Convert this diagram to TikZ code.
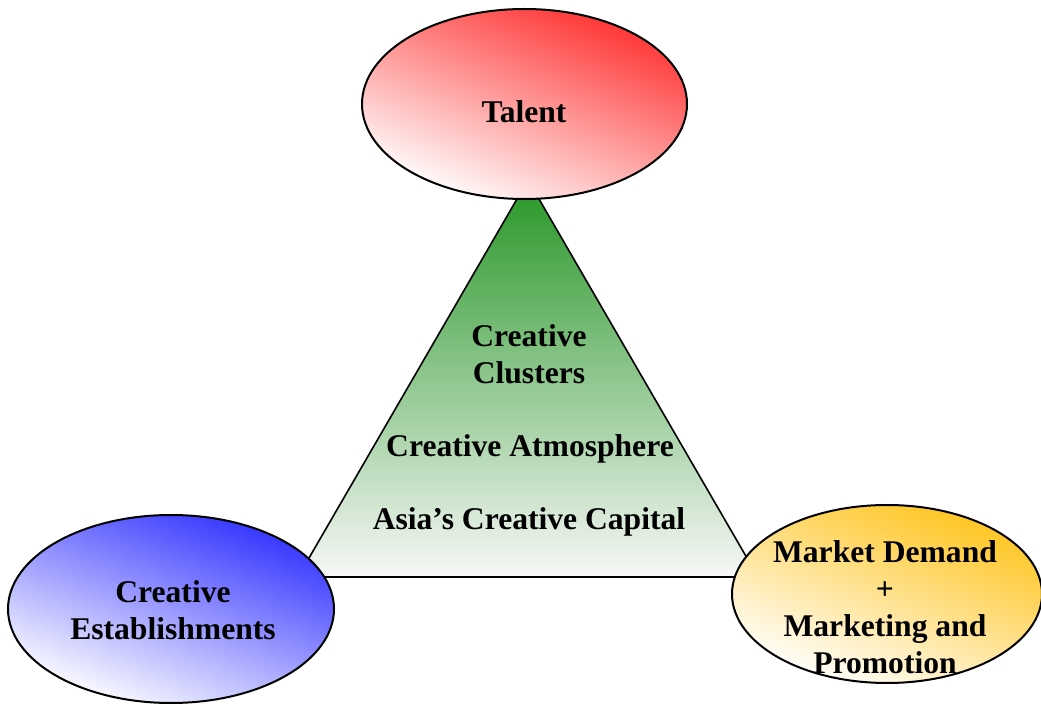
\documentclass[tikz,border=0pt]{standalone}
\usepackage{fontspec}
\setmainfont{Liberation Serif}
\usetikzlibrary{shapes.geometric}
\definecolor{talentred}{RGB}{255,50,50}
\definecolor{estblue}{RGB}{50,50,255}
\definecolor{marketgold}{RGB}{255,196,30}
\definecolor{clustergreen}{RGB}{38,150,38}
\tikzset{oval/.style={ellipse, draw, line width=1pt, inner sep=0pt,
    top color=#1, bottom color=white, shading angle=-22},
  lbl/.style={align=center, inner sep=0pt,
    font=\bfseries\fontsize{15.8}{18.5}\selectfont}}

\begin{document}
\begin{tikzpicture}[x=0.5pt,y=-0.5pt]
    \useasboundingbox (0,0) rectangle (1041,706);
    % pyramid in the middle
    \coordinate (apex) at (528,180);
    \coordinate (baseleft) at (298,577);
    \coordinate (baseright) at (758,577);
    \draw[line width=0.8pt, top color=clustergreen, bottom color=black!3!white]
      (apex) -- (baseleft) -- (baseright) -- cycle;
    % the three ovals
    \node[oval=talentred, minimum width=162.5pt, minimum height=95pt] (talent) at (524.5,104) {};
    \node[oval=estblue, minimum width=163pt, minimum height=94pt] (establish) at (171,609) {};
    \node[oval=marketgold, minimum width=155pt, minimum height=89pt] (market) at (887,594) {};
    % labels
    \node[lbl] (talenttext) at (524,112) {Talent};
    \node[lbl] (clusters) at (529,354) {Creative\\Clusters};
    \node[lbl] (atmosphere) at (530,449) {Creative Atmosphere};
    \node[lbl] (capital) at (529,522) {Asia’s Creative Capital};
    \node[lbl] (establishtext) at (173,610) {Creative\\Establishments};
    \node[lbl] (markettext) at (885,607) {Market Demand\\+\\Marketing and\\Promotion};
\end{tikzpicture}
\end{document}
